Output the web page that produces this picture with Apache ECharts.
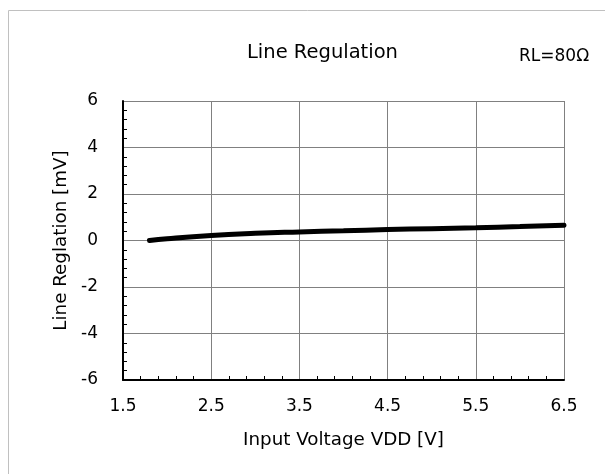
<!DOCTYPE html>
<html><head><meta charset="utf-8">
<script src="https://cdn.jsdelivr.net/npm/echarts@6/dist/echarts.min.js"></script>
<style>html,body{margin:0;padding:0;background:#fff}#c{width:605px;height:474px}</style>
</head><body><div id="c"></div>
<script>
const xValues = [1.8, 2.0, 2.5, 3.0, 3.5, 4.0, 4.5, 5.0, 5.5, 6.0, 6.5];
const yValues = [0.0, 0.08, 0.22, 0.31, 0.37, 0.42, 0.47, 0.51, 0.55, 0.60, 0.66];
const xTicks = [1.5, 2.5, 3.5, 4.5, 5.5, 6.5];
const yTicks = [-6, -4, -2, 0, 2, 4, 6];

const font = '"DejaVu Sans", Verdana, sans-serif';
const chart = echarts.init(document.getElementById('c'), null, {renderer: 'canvas'});
chart.setOption({
  animation: false,
  graphic: [
    {type: 'rect', shape: {x: 8.5, y: 10.5, width: 800, height: 800}, style: {fill: 'none', stroke: '#c0c0c0', lineWidth: 1}, z: -10},
    {type: 'text', left: 519, top: 48, style: {text: 'RL=80Ω', font: '17px ' + font, fill: '#000'}}
  ],
  title: {text: 'Line Regulation', left: 242, top: 38, textStyle: {fontFamily: font, fontSize: 19.5, fontWeight: 'normal', color: '#000'}},
  grid: {left: 123, top: 101, right: 41, bottom: 94},
  xAxis: {
    type: 'value', min: 1.5, max: 6.5, interval: 1,
    axisLine: {show: true, onZero: false, lineStyle: {color: '#000', width: 2}},
    axisTick: {show: false, inside: true},
    minorTick: {show: true, splitNumber: 5, length: 4, lineStyle: {color: '#000'}},
    axisLabel: {fontFamily: font, fontSize: 17, color: '#000', margin: 18, formatter: v => v.toFixed(1)},
    splitLine: {show: true, lineStyle: {color: '#808080', width: 1}},
    name: 'Input Voltage VDD [V]', nameLocation: 'middle', nameGap: 51,
    nameTextStyle: {fontFamily: font, fontSize: 18.3, color: '#000'}
  },
  yAxis: {
    type: 'value', min: -6, max: 6, interval: 2,
    axisLine: {show: true, onZero: false, lineStyle: {color: '#000', width: 2}},
    axisTick: {show: false, inside: true},
    minorTick: {show: true, splitNumber: 5, length: 4, lineStyle: {color: '#000'}},
    axisLabel: {fontFamily: font, fontSize: 17, color: '#000', margin: 25},
    splitLine: {show: true, lineStyle: {color: '#808080', width: 1}},
    name: 'Line Reglation [mV]', nameLocation: 'middle', nameGap: 50,
    nameTextStyle: {fontFamily: font, fontSize: 18.3, color: '#000'}
  },
  series: [{
    type: 'line', smooth: true, symbol: 'none',
    data: xValues.map((x, i) => [x, yValues[i]]),
    lineStyle: {color: '#000', width: 5, cap: 'round'}
  }]
});
</script></body></html>
